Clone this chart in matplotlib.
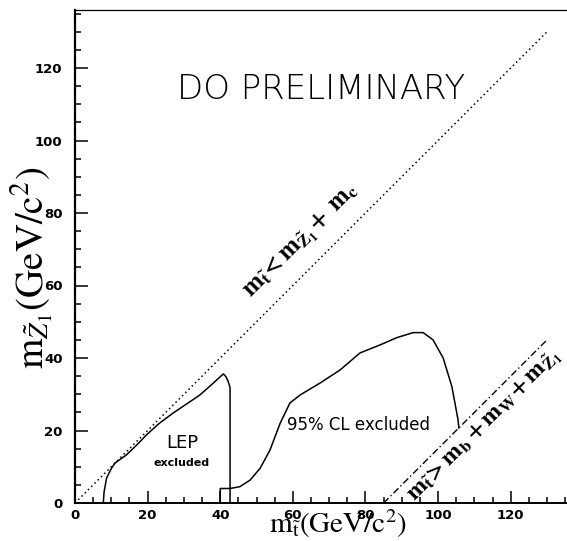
import numpy as np
import matplotlib
matplotlib.use("Agg")
import matplotlib.pyplot as plt
from matplotlib.ticker import MultipleLocator

plt.rcParams['mathtext.fontset'] = 'stix'

# LEP excluded boundary
lepX = [7.8, 8.0, 8.7, 10.0, 11.0, 14.2, 17.0, 19.7, 23.0, 27.0, 31.0, 34.4, 38.0, 40.4, 40.9, 41.6, 42.2, 42.7, 42.7]
lepY = [0.0, 3.0, 6.9, 9.5, 11.0, 13.3, 16.0, 18.8, 21.8, 24.8, 27.5, 29.8, 33.0, 35.2, 35.6, 34.8, 33.5, 31.8, 0.0]

# D0 95% CL excluded boundary
clX = [40.0, 40.0, 42.7, 45.4, 48.2, 51.0, 53.7, 56.5, 59.2, 62.0, 67.5, 73.0, 78.5, 84.0, 88.6, 93.1, 95.9, 98.6, 101.4, 103.8, 105.5, 105.7]
clY = [0.0, 4.0, 4.0, 4.5, 6.3, 9.6, 14.6, 22.0, 27.6, 29.8, 33.1, 36.7, 41.4, 43.6, 45.6, 47.0, 47.0, 45.0, 40.0, 32.1, 22.9, 20.7]

# kinematic limits
mc = 0.0
mbmw = 85.0
kinLowX = [0.0, 130.0]
kinHighX = [85.0, 130.0]

xTicks = [0, 20, 40, 60, 80, 100, 120]
yTicks = [0, 20, 40, 60, 80, 100, 120]

fig = plt.figure(figsize=(5.67, 5.41), dpi=100)
ax = fig.add_axes([75/567, 38/541, 1 - 75/567, (503-10)/541])

ax.plot(lepX, lepY, color='black', lw=1.1)
ax.plot(clX, clY, color='black', lw=1.1)
ax.plot(kinLowX, [x - mc for x in kinLowX], color='black', lw=1.1, linestyle=(0, (1, 2)))
ax.plot(kinHighX, [x - mbmw for x in kinHighX], color='black', lw=1.0, linestyle=(0, (5, 2, 1, 2)))

ax.set_xlim(0, 135.5)
ax.set_ylim(0, 136)
ax.set_xticks(xTicks)
ax.set_yticks(yTicks)
ax.xaxis.set_minor_locator(MultipleLocator(5))
ax.yaxis.set_minor_locator(MultipleLocator(5))
ax.tick_params(which='both', direction='in', width=1.1, labelsize=9.5)
ax.tick_params(which='major', length=9)
ax.tick_params(which='minor', length=4.5)
ax.tick_params(axis='y', pad=9)
ax.tick_params(axis='x', pad=4)
for lab in ax.get_xticklabels() + ax.get_yticklabels():
    lab.set_fontweight('bold')
ax.spines['right'].set_visible(False)
ax.spines['left'].set_linewidth(1.6)
ax.spines['bottom'].set_linewidth(1.4)
ax.spines['top'].set_linewidth(0.9)

ax.text(67.8, 114, 'DO PRELIMINARY', fontsize=24.5, fontweight='light', family='DejaVu Sans',
        ha='center', va='center')
ax.text(78, 21.5, '95% CL excluded', fontsize=12, ha='center', va='center')
ax.text(29.5, 16.5, 'LEP', fontsize=13, ha='center', va='center')
ax.text(29.3, 11, 'excluded', fontsize=8, fontweight='bold', ha='center', va='center')

ax.text(48.5, 56.5, r'$\mathbf{m_{\tilde{t}}\!<m_{\tilde{Z}_1}\!+\ m_c}$', fontsize=18,
        rotation=45, rotation_mode='anchor', ha='left', va='baseline')
ax.text(93.5, 0.5, r'$\mathbf{m_{\tilde{t}}\!>m_b+m_W\!+m_{\tilde{Z}_1}}$', fontsize=17.5,
        rotation=45, rotation_mode='anchor', ha='left', va='baseline')

fig.text(338/567, 1 - 524/541, r'$\mathrm{m}_{\tilde{\mathrm{t}}}\mathrm{(GeV/c^2)}$', fontsize=21,
         ha='center', va='center')
fig.text(32/567, 1 - 268/541, r'$\mathrm{m}_{\tilde{Z}_1}\mathrm{(GeV/c^2)}$', fontsize=28,
         ha='center', va='center', rotation=90)

fig.savefig('out.png', dpi=100)
